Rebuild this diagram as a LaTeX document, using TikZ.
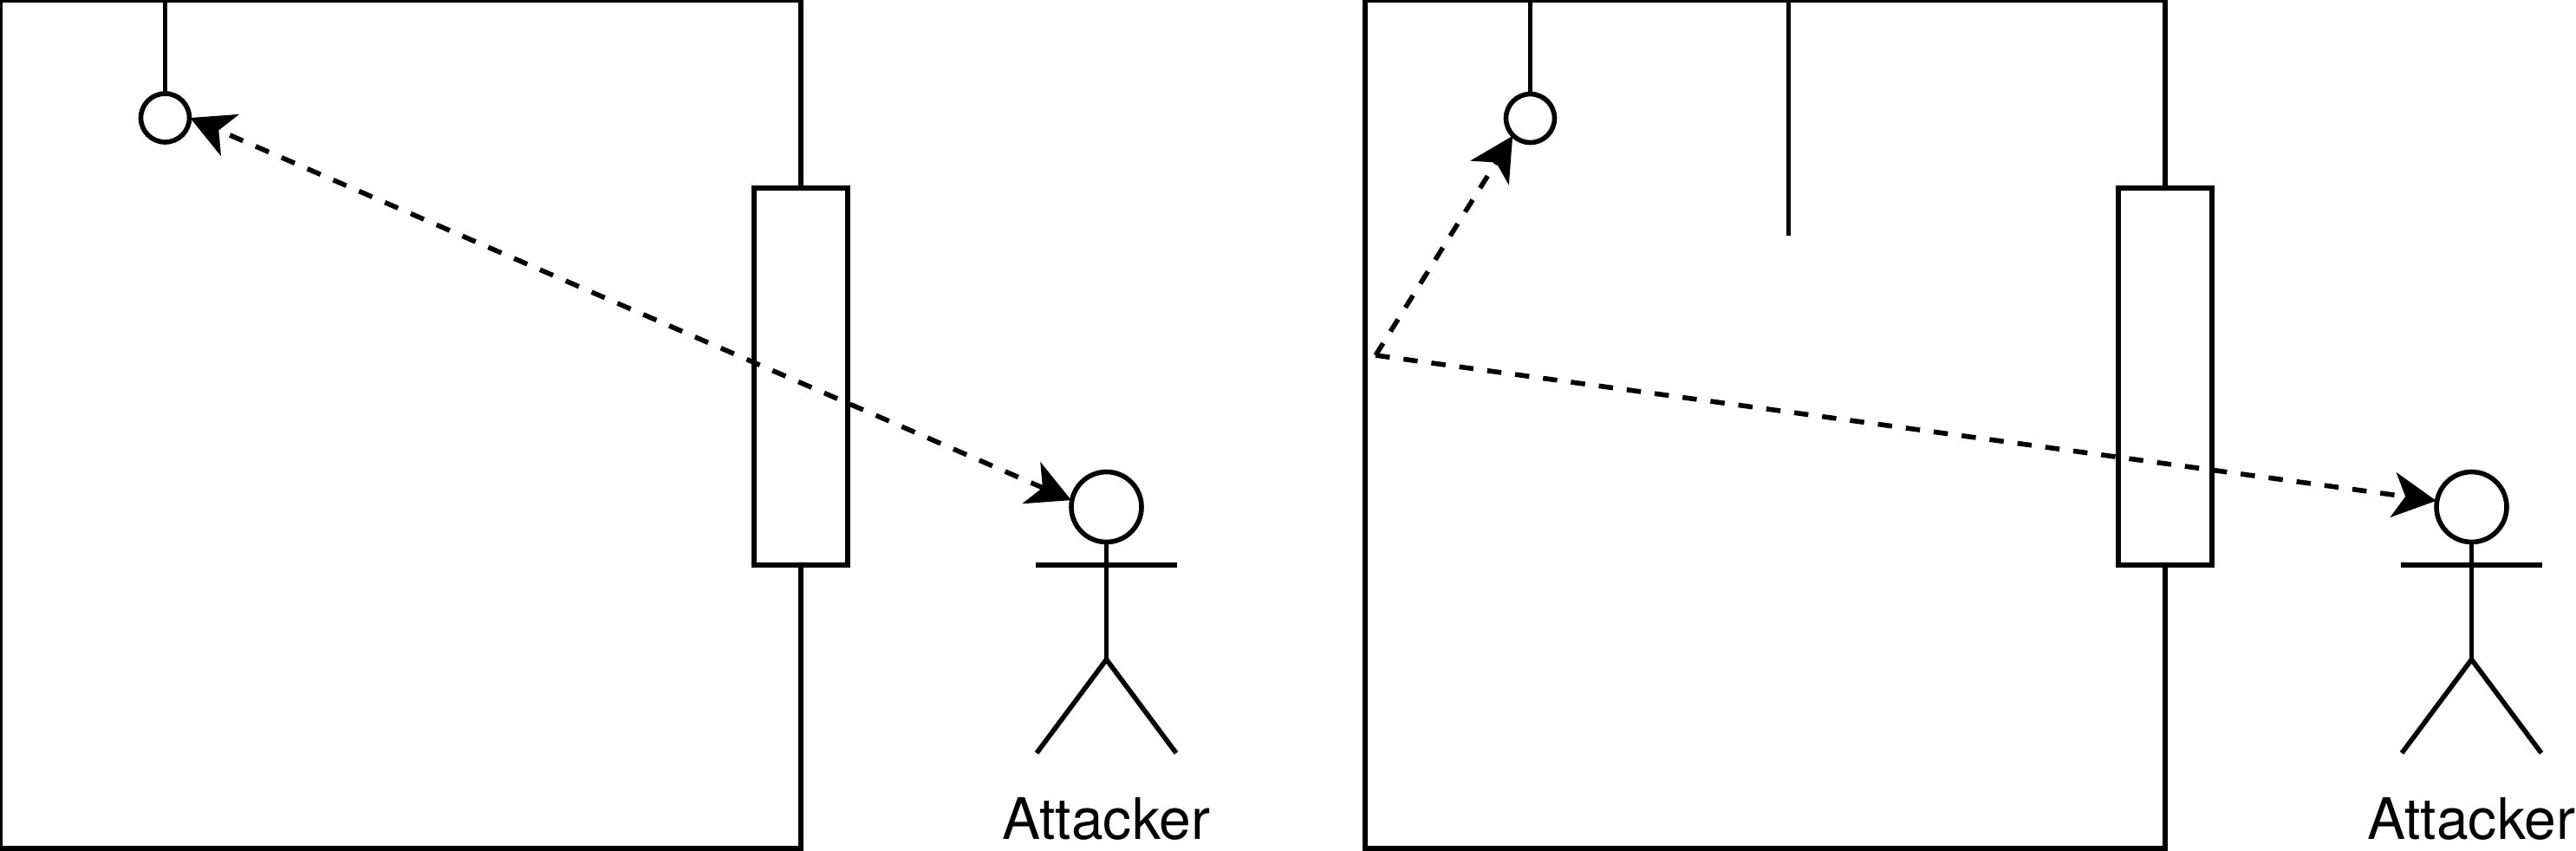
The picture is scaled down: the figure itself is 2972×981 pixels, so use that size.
\documentclass[tikz,border=0pt]{standalone}
\usepackage{fontspec}
\setmainfont{TeX Gyre Heros}
\usetikzlibrary{arrows.meta}
\tikzset{
  wall/.style={line width=2.8pt,line cap=butt,line join=miter},
  windowbox/.style={draw,line width=2.8pt,fill=none,rectangle,minimum width=54pt,minimum height=217.5pt,inner sep=0pt,outer sep=0pt},
  ballnode/.style={draw,line width=2.8pt,circle,minimum size=28pt,inner sep=0pt,outer sep=0.4pt},
  headnode/.style={draw,line width=2.8pt,circle,minimum size=40.5pt,inner sep=0pt,outer sep=0.4pt},
  limb/.style={line width=2.8pt,line cap=butt},
  attack/.style={line width=2.8pt,dash pattern=on 8.25pt off 8pt,
    -{Stealth[length=25pt,width=26pt,inset=7pt]}},
  attackboth/.style={attack,{Stealth[length=25pt,width=26pt,inset=7pt]}-{Stealth[length=25pt,width=26pt,inset=7pt]}},
  label/.style={font=\fontsize{33pt}{38pt}\selectfont,anchor=base,inner sep=0pt}
}
\begin{document}
\begin{tikzpicture}[x=0.5pt,y=-0.5pt]
\useasboundingbox (0,0) rectangle (2972,981);
% left room
\node[windowbox] (winA) at (924,434.5) {};
\coordinate (topA) at (190.5,0);
\node[ballnode] (ballA) at (190.5,136) {};
\draw[wall] (924,217) -- (924,0.5) -- (0.5,0.5) -- (0.5,979) -- (924,979) -- (winA.south);
\draw[wall] (topA) -- (ballA);
% left actor
\node[headnode] (headA) at (1276.5,585) {};
\coordinate (armLA) at (1195,652);
\coordinate (armRA) at (1358,652);
\coordinate (hipA) at (1276.5,761);
\coordinate (legLA) at (1196,869);
\coordinate (legRA) at (1357,869);
\draw[limb] (headA) -- (hipA);
\draw[limb] (armLA) -- (armRA);
\draw[limb] (legLA) -- (hipA) -- (legRA);
\node[label] (nameA) at (1276.5,968) {Attacker};
\draw[attackboth] (headA.169) -- (ballA.east);
% right room
\node[windowbox] (winB) at (2498,434.5) {};
\coordinate (topB) at (1765.5,0);
\node[ballnode] (ballB) at (1765.5,136.5) {};
\coordinate (divTop) at (2063.5,0);
\coordinate (divEnd) at (2063.5,272);
\draw[wall] (2498,217) -- (2498,0.5) -- (1575,0.5) -- (1575,979) -- (2498,979) -- (winB.south);
\draw[wall] (topB) -- (ballB);
\draw[wall] (divTop) -- (divEnd);
% right actor
\node[headnode] (headB) at (2851.5,585) {};
\coordinate (armLB) at (2770,652);
\coordinate (armRB) at (2933,652);
\coordinate (hipB) at (2851.5,761);
\coordinate (legLB) at (2771,869);
\coordinate (legRB) at (2932,869);
\draw[limb] (headB) -- (hipB);
\draw[limb] (armLB) -- (armRB);
\draw[limb] (legLB) -- (hipB) -- (legRB);
\node[label] (nameB) at (2851.5,968) {Attacker};
\coordinate (bounce) at (1587,410);
\draw[attack] (bounce) -- (ballB.225);
\draw[attack] (bounce) -- (headB.170);
\end{tikzpicture}
\end{document}
